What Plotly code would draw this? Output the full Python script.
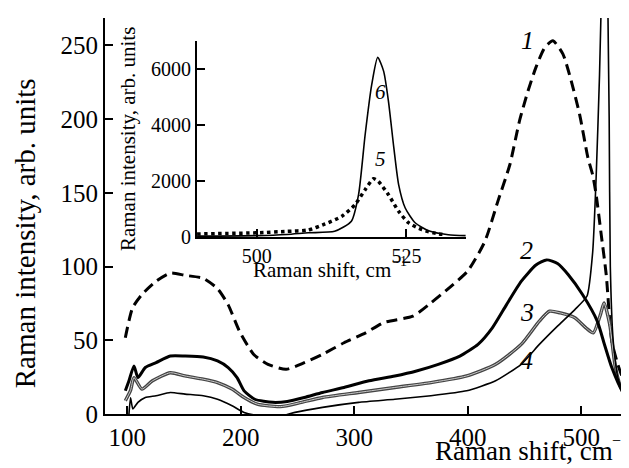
import plotly.graph_objects as go

# ---- main chart data (Raman shift, cm-1 ; intensity, arb. units) ----
x1 = [98.4, 104.8, 113, 125.5, 138, 151, 167, 179.6, 189, 199, 211.5, 224, 240, 256, 272, 291, 310, 326,
      351.6, 367.5, 383.4, 400, 415, 426.6, 437, 445.6, 453, 460, 467.7, 475, 483.8, 491, 498.5, 505.8,
      510, 513, 517.5, 521.9, 526.8, 533, 541, 548]
y1 = [51.7, 72, 81, 90, 95.5, 94, 92, 85, 74, 56, 40.4, 33.7, 30.3, 34.8, 40.4, 48.3, 55, 62,
      66.3, 75.3, 85.4, 97, 117, 144.5, 169, 199, 219, 235, 248.4, 253, 244, 226, 203, 173.7,
      162, 148.8, 121.6, 94.4, 49.4, 31.5, 15.7, 6.7]

x2 = [98.4, 101.6, 106, 109.5, 116, 125.5, 138, 151, 167, 179.6, 189, 196.8, 203, 212.4, 228.3, 241, 256,
      272, 291, 313, 335.7, 354.8, 374, 393, 409, 421.6, 434, 447, 460, 469.4, 479, 488.5, 501, 514,
      520.4, 526.8, 536, 548]
y2 = [15.7, 22.5, 32.6, 24.7, 31.5, 34.8, 39.3, 39.3, 38.7, 36, 31.5, 24.7, 15.7, 10, 7.9, 8.5, 11.2,
      14.6, 18, 22.5, 25.8, 29.2, 33.7, 39.3, 47.2, 58.4, 74, 89.9, 101, 104.5, 102, 94.4, 81, 63,
      47, 31.5, 15.7, 6.7]

x3 = [98.4, 103, 106, 113, 122.3, 138, 151, 167, 179.6, 192.4, 203, 214.6, 235, 253.5, 272, 303.8, 335.7,
      367.5, 399, 424.5, 447, 463, 472, 481.6, 494.3, 504, 510.5, 516.8, 520, 525, 530, 536, 545.5]
y3 = [9, 16, 24.7, 16.9, 22.5, 28, 25.8, 23.6, 21.3, 16.9, 11.2, 6.7, 5, 7.9, 11.2, 14.6, 18,
      21.3, 25.8, 33.7, 47.2, 63, 69.7, 68.5, 65.2, 58.4, 55, 67.4, 75.3, 60.7, 31.5, 15.7, 6.7]

x4 = [101.6, 103, 105, 109.5, 116, 125.5, 138, 151, 167, 179.6, 192.4, 203, 215, 235, 247.8, 272, 303.8,
      335.7, 367.5, 399, 424.5, 447, 463, 479, 494.3, 505, 510, 513, 516, 518, 520.5, 523, 524.5,
      525.5, 528, 532, 538, 548]
y4 = [0, 11, 3.4, 7.9, 11.2, 12.4, 14.6, 13.5, 12.4, 10, 5.6, 1.1, -1, -1.5, 1.1, 4.5, 7.9,
      10, 12.4, 15.7, 22.5, 33.7, 47.2, 59.6, 70.8, 80, 110, 160, 230, 300, 600, 300, 200,
      100, 50, 25, 13, 5]

# ---- inset data ----
x5 = [490, 500, 505, 508.6, 511.4, 514.2, 516.4, 518.1, 519.5, 520.3, 522, 523.7, 525.4, 527.6, 530.4, 531.5]
y5 = [107, 150, 200, 250, 464, 738, 1153, 1690, 2080, 1990, 1510, 917, 500, 260, 107, 90]

x6 = [490, 500, 505, 508.6, 513, 515.8, 517, 518.1, 519.2, 520.2, 521.2, 522, 522.9, 523.7, 524.8,
      526.5, 528.7, 532, 534.9]
y6 = [30, 50, 90, 150, 202, 560, 1510, 3650, 5440, 6415, 5915, 4845, 3180, 1870, 1035,
      500, 225, 82, 50]

main_xticks = [100, 200, 300, 400, 500]
main_yticks = [0, 50, 100, 150, 200, 250]
inset_xticks = [500, 525]
inset_yticks = [0, 2000, 4000, 6000]

curve_labels = ["1", "2", "3", "4"]
curve_label_x = [453, 452, 452, 452]
curve_label_y = [253, 111, 69, 36]
inset_labels = ["6", "5"]
inset_label_x = [520.6, 520.6]
inset_label_y = [5170, 2790]

FONT = "Liberation Serif"

fig = go.Figure()
fig.add_trace(go.Scatter(x=x1, y=y1, mode="lines",
                         line=dict(color="black", width=3, dash="11px,6px", shape="spline", smoothing=0.6)))
fig.add_trace(go.Scatter(x=x3, y=y3, mode="lines",
                         line=dict(color="#444", width=3.4, shape="spline", smoothing=0.6)))
fig.add_trace(go.Scatter(x=x3, y=y3, mode="lines",
                         line=dict(color="#c8c8c8", width=1, shape="spline", smoothing=0.6)))
fig.add_trace(go.Scatter(x=x2, y=y2, mode="lines",
                         line=dict(color="black", width=3, shape="spline", smoothing=0.6)))
fig.add_trace(go.Scatter(x=x4, y=y4, mode="lines",
                         line=dict(color="black", width=1.6, shape="spline", smoothing=0.5)))

fig.add_trace(go.Scatter(x=x5, y=y5, mode="lines", xaxis="x2", yaxis="y2",
                         line=dict(color="black", width=3.5, dash="dot", shape="spline", smoothing=0.6)))
fig.add_trace(go.Scatter(x=x6, y=y6, mode="lines", xaxis="x2", yaxis="y2",
                         line=dict(color="black", width=1.6, shape="spline", smoothing=0.6)))

axis_common = dict(showline=True, linecolor="black", linewidth=2, ticks="inside", tickcolor="black",
                   tickwidth=2, showgrid=False, zeroline=False, mirror=False)

fig.update_layout(
    width=629, height=468,
    margin=dict(l=97, r=0, t=10, b=62),
    paper_bgcolor="white", plot_bgcolor="white",
    showlegend=False,
    font=dict(family=FONT, color="black"),
    xaxis=dict(range=[80.5, 549], tickvals=main_xticks, ticklen=8, tickfont=dict(size=25), **axis_common),
    yaxis=dict(range=[0, 268.5], tickvals=main_yticks, ticklen=8, tickfont=dict(size=25), **axis_common),
    xaxis2=dict(domain=[0.173, 0.679], anchor="y2", range=[490, 535], tickvals=inset_xticks, ticklen=8,
                tickfont=dict(size=20), **axis_common),
    yaxis2=dict(domain=[0.447, 0.942], anchor="x2", range=[0, 7000], tickvals=inset_yticks, ticklen=8,
                tickfont=dict(size=20), **axis_common),
)

ann = []
ann.append(dict(text="Raman intensity, arb. units", xref="paper", yref="paper", x=-0.15, y=0.457,
                textangle=-90, showarrow=False, font=dict(size=29), xanchor="center", yanchor="middle"))
# main x title, with the superscript as its own small text
ann.append(dict(text="Raman shift, cm", xref="paper", yref="paper", x=0.958, y=-0.093,
                showarrow=False, font=dict(size=27), xanchor="right", yanchor="middle"))
ann.append(dict(text="−1", xref="paper", yref="paper", x=0.950, y=-0.066,
                showarrow=False, font=dict(size=16), xanchor="left", yanchor="middle"))
# inset x title
ann.append(dict(text="Raman shift, cm", xref="paper", yref="paper", x=0.408, y=0.363,
                showarrow=False, font=dict(size=21), xanchor="center", yanchor="middle"))
ann.append(dict(text="−1", xref="paper", yref="paper", x=0.535, y=0.385,
                showarrow=False, font=dict(size=14), xanchor="left", yanchor="middle"))
ann.append(dict(text="Raman intensity, arb. units", xref="paper", yref="paper", x=0.043, y=0.694,
                textangle=-90, showarrow=False, font=dict(size=21), xanchor="center", yanchor="middle"))
for t, xx, yy in zip(curve_labels, curve_label_x, curve_label_y):
    ann.append(dict(text="<i>" + t + "</i>", x=xx, y=yy, xref="x", yref="y", showarrow=False,
                    font=dict(size=26), xanchor="center", yanchor="middle"))
for t, xx, yy in zip(inset_labels, inset_label_x, inset_label_y):
    ann.append(dict(text="<i>" + t + "</i>", x=xx, y=yy, xref="x2", yref="y2", showarrow=False,
                    font=dict(size=21), xanchor="center", yanchor="middle"))
fig.update_layout(annotations=ann)

fig.write_html("out.html")
